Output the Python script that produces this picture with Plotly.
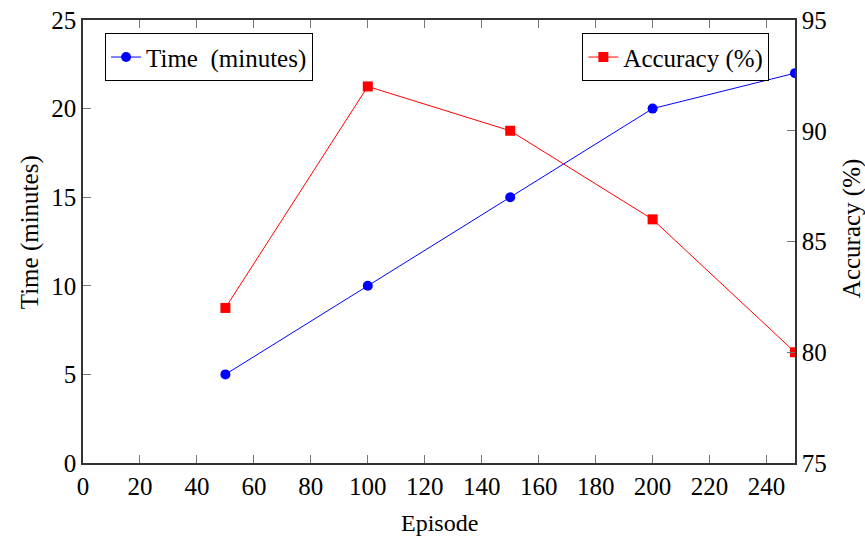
import plotly.graph_objects as go

episodes = [50, 100, 150, 200, 250]
time_minutes = [5, 10, 15, 20, 22]
accuracy_pct = [82, 92, 90, 86, 80]

FONT = "Liberation Serif"
AX = "#333333"

fig = go.Figure()
fig.add_trace(go.Scatter(
    x=episodes, y=time_minutes, name="Time  (minutes)", mode="lines+markers",
    line=dict(color="#0000ff", width=1),
    marker=dict(symbol="circle", size=10, color="#0000ff"),
    yaxis="y", legend="legend", showlegend=True))
fig.add_trace(go.Scatter(
    x=episodes, y=accuracy_pct, name="Accuracy (%)", mode="lines+markers",
    line=dict(color="#ff0000", width=1),
    marker=dict(symbol="square", size=10, color="#ff0000"),
    yaxis="y2", legend="legend2", showlegend=True))

fig.update_layout(
    width=865, height=540,
    showlegend=True,
    margin=dict(l=83, r=70, t=20, b=77),
    paper_bgcolor="white", plot_bgcolor="white",
    font=dict(family=FONT, size=25, color="black"),
    xaxis=dict(range=[0, 250], tick0=0, dtick=20, showgrid=False, zeroline=False,
               showline=True, linecolor=AX, linewidth=1.5, mirror="ticks",
               ticks="inside", ticklen=8, tickcolor="#777777", automargin=False,
               tickfont=dict(size=25)),
    yaxis=dict(range=[0, 25], tick0=0, dtick=5, showgrid=False, zeroline=False,
               showline=True, linecolor=AX, linewidth=1.5,
               ticks="inside", ticklen=8, tickcolor="#777777", automargin=False,
               tickfont=dict(size=25)),
    yaxis2=dict(range=[75, 95], tick0=75, dtick=5, overlaying="y", side="right",
                showgrid=False, zeroline=False,
                showline=True, linecolor=AX, linewidth=1.5,
                ticks="inside", ticklen=8, tickcolor="#777777", automargin=False,
                tickfont=dict(size=25)),
    legend=dict(x=0.031, y=0.97, xanchor="left", yanchor="top",
                bordercolor="black", borderwidth=1, bgcolor="white",
                font=dict(size=25), itemwidth=30),
    legend2=dict(x=0.964, y=0.97, xanchor="right", yanchor="top",
                 bordercolor="black", borderwidth=1, bgcolor="white",
                 font=dict(size=25), itemwidth=30),
    annotations=[
        dict(text="Episode", xref="paper", yref="paper", x=0.5, y=-0.135,
             xanchor="center", yanchor="middle", showarrow=False,
             font=dict(size=24)),
        dict(text="Time (minutes)", xref="paper", yref="paper", x=-0.075, y=0.52,
             xanchor="center", yanchor="middle", showarrow=False, textangle=-90,
             font=dict(size=25)),
        dict(text="Accuracy (%)", xref="paper", yref="paper", x=1.08, y=0.53,
             xanchor="center", yanchor="middle", showarrow=False, textangle=-90,
             font=dict(size=25)),
    ],
)

fig.write_html("out.html")
